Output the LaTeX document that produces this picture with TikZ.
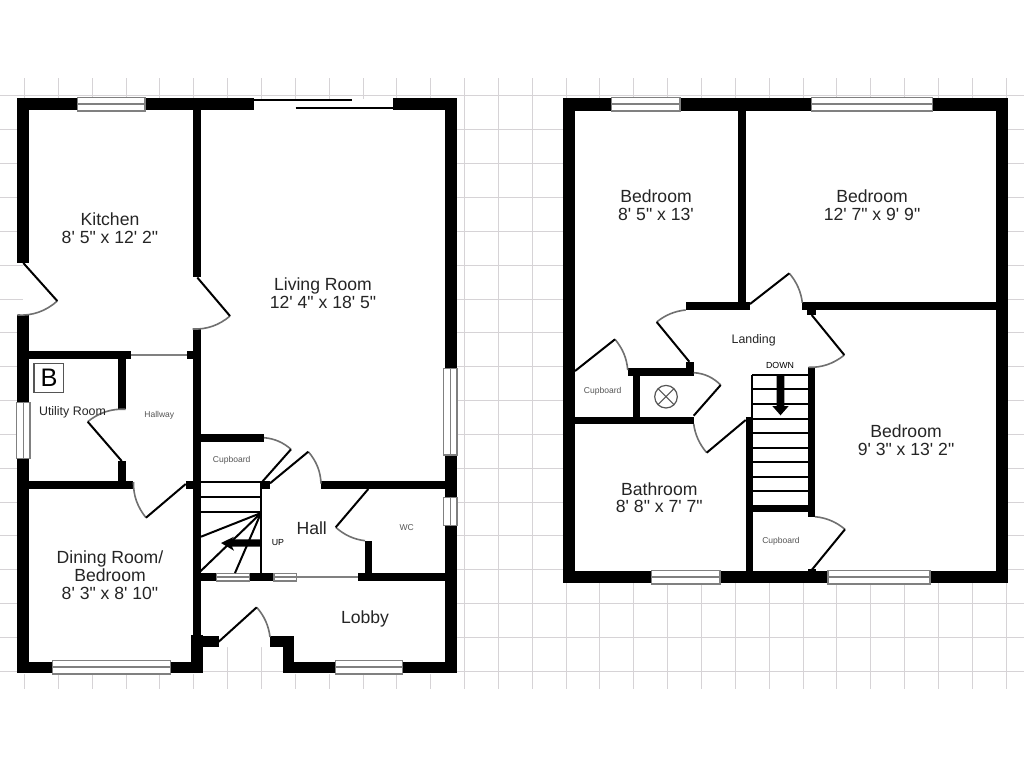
\documentclass[tikz,border=0pt]{standalone}
\usepackage{fontspec}
\usetikzlibrary{calc}
\newfontfamily\plan{Liberation Sans}
\definecolor{gridc}{HTML}{D6D3D6}
\definecolor{winc}{HTML}{808080}
\definecolor{swingc}{HTML}{707070}
\definecolor{inkc}{HTML}{252525}
\definecolor{smallc}{HTML}{555555}
\tikzset{
  wall/.style={fill=black},
  gridline/.style={draw=gridc,line width=1.1pt},
  winbox/.style={fill=white,draw=winc,line width=1.1pt},
  winmid/.style={draw=winc,line width=1.3pt},
  leaf/.style={draw=black,line width=1.5pt},
  swing/.style={draw=swingc,line width=1.2pt},
  tread/.style={draw=black,line width=1.3pt},
  opening/.style={draw=winc,line width=1.2pt},
  room/.style={font=\plan\fontsize{13.2}{13.3}\selectfont,align=center,inner sep=0pt,text=inkc},
  midlabel/.style={font=\plan\fontsize{9.3}{11}\selectfont,inner sep=0pt,text=inkc},
  tiny/.style={font=\plan\fontsize{6.4}{8}\selectfont,inner sep=0pt,text=smallc},
  tinydark/.style={font=\plan\fontsize{6.6}{8}\selectfont,inner sep=0pt,text=black},
}
\newcommand{\hwin}[3]{% x1 x2 ytop (height 14)
  \draw[winbox] (#1,#3) rectangle (#2,#3+13.6);
  \draw[winmid] (#1,#3+6.8) -- (#2,#3+6.8);}
\newcommand{\vwin}[3]{% y1 y2 xleft
  \draw[winbox] (#3,#1) rectangle (#3+13.4,#2);
  \draw[winmid] (#3+6.7,#1) -- (#3+6.7,#2);}
\newcommand{\doorway}[4]{% hinge, leaf end, tangent corner, jamb
  \draw[swing] (#2) .. controls ($(#2)!0.6667!(#3)$) and ($(#4)!0.6667!(#3)$) .. (#4);
  \draw[leaf] (#1) -- (#2);}
\begin{document}
\begin{tikzpicture}[x=0.75pt,y=-0.75pt]
\useasboundingbox (0,0) rectangle (1024,768);
\fill[white] (0,0) rectangle (1024,768);
% grid
\foreach \k in {0,...,29} \draw[gridline] ({round(24+33.85*\k)+0.5},78) -- ({round(24+33.85*\k)+0.5},688.5);
\foreach \k in {0,...,17} \draw[gridline] (0,{round(95.4+33.85*\k)+0.5}) -- (1024,{round(95.4+33.85*\k)+0.5});
% house floors
\fill[white] (23,99) -- (457,99) -- (457,674) -- (283,674) -- (283,647) -- (203,647) -- (203,674) -- (23,674) -- cycle;
\fill[white] (563.3,98.3) rectangle (1008,583.3);

%%% GROUND FLOOR walls
\fill[wall] (17.3,98.3) rectangle (77.3,110.3);
\fill[wall] (145,98.3) rectangle (254,110.3);
\fill[wall] (393.3,98.3) rectangle (456.7,110.3);
\fill[wall] (17.3,98.3) rectangle (29,263.3);
\fill[wall] (17.3,315) rectangle (29,402.3);
\fill[wall] (17.3,458.3) rectangle (29,673.3);
\fill[wall] (17.3,661.7) rectangle (52.7,673.3);
\fill[wall] (170.7,661.7) rectangle (202.7,673.3);
\fill[wall] (190.7,635) rectangle (202.7,673.3);
\fill[wall] (193.3,110) rectangle (201,277.3);
\fill[wall] (193.3,329.3) rectangle (201,635);
\fill[wall] (201,635.7) rectangle (218.7,647.3);
\fill[wall] (445,98.3) rectangle (456.7,368.3);
\fill[wall] (445,455) rectangle (456.7,497.7);
\fill[wall] (445,525.7) rectangle (456.7,673.3);
\fill[wall] (17.3,351) rectangle (130.7,359);
\fill[wall] (186.7,351) rectangle (193.5,359);
\fill[wall] (118.3,359) rectangle (125.7,409.3);
\fill[wall] (118.3,461) rectangle (125.7,481);
\fill[wall] (17.3,481) rectangle (133.3,489);
\fill[wall] (185.7,481) rectangle (193.5,489);
\fill[wall] (201,434) rectangle (264,441.7);
\fill[wall] (261.7,481) rectangle (270,489);
\fill[wall] (321,481) rectangle (445,489);
\fill[wall] (193.3,573.3) rectangle (216.7,581);
\fill[wall] (249.3,573.3) rectangle (274,581);
\fill[wall] (358.3,573.3) rectangle (445,581);
\fill[wall] (365,540.7) rectangle (372.3,573.3);
\fill[wall] (270,635.7) rectangle (294.3,647.3);
\fill[wall] (282.7,647) rectangle (294.3,673.3);
\fill[wall] (282.7,661.7) rectangle (335.7,673.3);
\fill[wall] (402.7,661.7) rectangle (456.7,673.3);

% ground floor windows and openings
\hwin{77.3}{145}{97.5}
\hwin{52.7}{170.7}{660.3}
\hwin{335.7}{402.7}{660.3}
\draw[winbox] (216.7,573.6) rectangle (249.3,580.8);
\draw[winmid] (216.7,577.2) -- (249.3,577.2);
\draw[winbox] (274,573.6) rectangle (296.7,580.8);
\draw[winmid] (274,577.2) -- (296.7,577.2);
\vwin{402.3}{458.3}{16.7}
\vwin{368.3}{455}{443.7}
\vwin{497.7}{525.7}{443.7}
\draw[opening] (130.7,355) -- (186.7,355);
\draw[opening] (296.7,577.2) -- (358.3,577.2);
\draw[leaf] (254,100) -- (351.7,100);
\draw[leaf] (295.7,108.3) -- (393.3,108.3);

% ground floor doors
\doorway{23.3,263}{57.3,301}{39.9,316.4}{17.3,315}
\doorway{197.3,277.5}{230,316}{213.7,329.9}{192.7,329}
\doorway{121.7,461}{87.7,421.7}{104.5,408}{125.7,409.3}
\doorway{185.7,484}{146,517.7}{133,501.6}{133.5,482}
\doorway{262.3,481.7}{291,449.3}{279.3,438.9}{264,437.7}
\doorway{270,483.3}{308.3,451.7}{320.4,465.6}{321,483.5}
\doorway{368.3,489}{335.7,527.3}{348.5,538.8}{365,540.7}
\doorway{218.7,641.7}{256.7,607.3}{268,620.1}{270,637}

% ground floor stairs
\draw[tread] (201,482.3) -- (261,482.3);
\draw[tread] (201,497.3) -- (261,497.3);
\draw[tread] (201,511.7) -- (261,511.7);
\draw[leaf] (261,481) -- (261,574);
\draw[tread,line width=1.5pt] (261,513) -- (201,536.7);
\draw[tread,line width=1.5pt] (261,513) -- (200,571.7);
\draw[tread,line width=1.5pt] (261,513) -- (235,573);
\fill[black] (221,543) -- (234,536.7) -- (232,539.3) -- (261,539.3) -- (261,546.7) -- (232,546.7) -- (234,550.7) -- cycle;

%%% FIRST FLOOR walls
\fill[wall] (563.3,98.3) rectangle (611.7,110.5);
\fill[wall] (680,98.3) rectangle (811.7,110.5);
\fill[wall] (932.3,98.3) rectangle (1008,110.5);
\fill[wall] (563.3,98.3) rectangle (575,583.3);
\fill[wall] (996,98.3) rectangle (1008,583.3);
\fill[wall] (563.3,571) rectangle (651.7,583.3);
\fill[wall] (720,571) rectangle (828,583.3);
\fill[wall] (929.8,571) rectangle (1008,583.3);
\fill[wall] (738.3,110) rectangle (745.7,302.3);
\fill[wall] (685.7,302.3) rectangle (750,310);
\fill[wall] (802.3,301.7) rectangle (996,310);
\fill[wall] (807.3,310) rectangle (815.7,315);
\fill[wall] (686,361.7) rectangle (693.7,376);
\fill[wall] (627.7,368.3) rectangle (693.7,376);
\fill[wall] (632.7,376) rectangle (640.3,416.7);
\fill[wall] (575,416.7) rectangle (693.7,424);
\fill[wall] (745.7,416.7) rectangle (753.3,571);
\fill[wall] (808.3,367.3) rectangle (815,516.7);
\fill[wall] (753,505) rectangle (808.5,512.3);
\fill[wall] (808,568.5) rectangle (815.7,571);

% first floor windows
\hwin{611.7}{680}{97.5}
\hwin{811.7}{932.3}{97.5}
\hwin{651.7}{720}{570.3}
\hwin{828}{929.8}{570.3}

% first floor doors
\doorway{689.3,361.7}{656.7,322}{669.4,311.6}{685.7,310}
\doorway{575,371}{615,339.3}{626.5,353}{627.7,370}
\doorway{693.7,415.7}{720.7,385}{709.2,373.5}{693.7,372.7}
\doorway{745.7,420}{706.7,452.7}{695.8,440}{693.7,424}
\doorway{750,304}{789.3,273.3}{800.4,286.4}{802.3,302.7}
\doorway{811.7,315}{844.3,355}{828.5,368}{808.3,367.3}
\doorway{811.7,570}{845,529.3}{831.8,518.2}{815,516.7}

% first floor stairs
\draw[leaf] (752.3,375) -- (808.5,375);
\draw[leaf] (752.3,375) -- (752.3,417);
\foreach \y in {389.3,404,419,433.3,447.7,462.3,476.7,491}
  \draw[tread] (753,\y) -- (808.5,\y);
\fill[black] (780.5,415.3) -- (772.3,406) -- (776.7,406) -- (776.7,375) -- (784.3,375) -- (784.3,406) -- (788.7,406) -- cycle;

% tank symbol
\draw[draw=smallc,line width=0.9pt] (666,396.7) circle[radius=11.3];
\draw[draw=smallc,line width=0.8pt] (658,388.7) -- (674,404.7) (674,388.7) -- (658,404.7);

% utility badge
\draw[draw=smallc,line width=0.9pt,fill=white] (34,363.3) rectangle (63.3,392.7);
\node[font=\plan\fontsize{19}{21}\selectfont,inner sep=0pt,text=black] (badge) at (49,378) {B};

% labels ground floor
\node[room] (kitchen) at (110,228.5) {Kitchen\\8' 5" x 12' 2"};
\node[room] (living) at (323,293) {Living Room\\12' 4" x 18' 5"};
\node[room] (dining) at (110,575.3) {Dining Room/\\Bedroom\\8' 3" x 8' 10"};
\node[room] (hall) at (311.7,528) {Hall};
\node[room] (lobby) at (365,619) {Lobby};
\node[midlabel] (utility) at (72.5,412.7) {Utility Room};
\node[tiny] (hallway) at (159.3,415.3) {Hallway};
\node[tiny] (cupa) at (231.7,460) {Cupboard};
\node[tiny] (wc) at (406.7,528) {WC};
\node[tinydark] (up) at (278,542.7) {UP};

% labels first floor
\node[room] (beda) at (656,205.5) {Bedroom\\8' 5" x 13'};
\node[room] (bedb) at (872,205) {Bedroom\\12' 7" x 9' 9"};
\node[room] (bedc) at (906,440) {Bedroom\\9' 3" x 13' 2"};
\node[room] (bath) at (659.3,497.7) {Bathroom\\8' 8" x 7' 7"};
\node[midlabel] (landing) at (753.7,340.7) {Landing};
\node[tinydark] (down) at (780,365) {DOWN};
\node[tiny] (cupb) at (602.7,391) {Cupboard};
\node[tiny] (cupc) at (781,541) {Cupboard};
\end{tikzpicture}
\end{document}
